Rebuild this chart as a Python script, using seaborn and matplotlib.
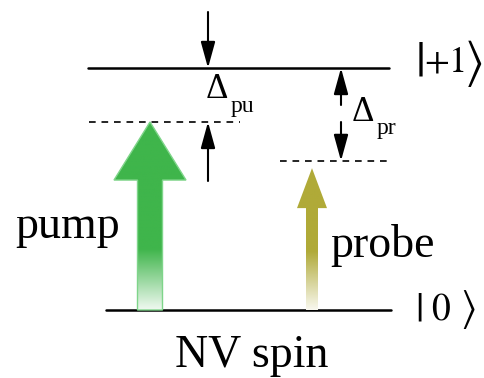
import numpy as np
import pandas as pd
import matplotlib
matplotlib.use("Agg")
import matplotlib.pyplot as plt
from matplotlib.patches import Polygon
import seaborn as sns

# energies in units of the |0> -> |+1> splitting
level_kets = ["0", "+1"]
level_E = [0.0, 1.0]
laser_names = ["pump", "probe"]
laser_E = [0.777, 0.616]          # virtual levels reached by the lasers
laser_colors = ["#3fb54b", "#b0aa38"]
delta_labels = ["pu", "pr"]

sns.set_theme(style="white")
plt.rcParams["font.family"] = ["Liberation Serif", "DejaVu Serif"]
plt.rcParams["mathtext.fontset"] = "stix"
plt.rcParams["text.color"] = "black"

fig = plt.figure(figsize=(4.85, 3.78), dpi=100)
ax = fig.add_axes([0, 0, 1, 1])
ax.set_xlim(0, 485)
ax.set_ylim(-0.281, 1.281)
ax.axis("off")

def E(py):
    # pixel row of the reference -> energy axis
    return (310 - py) / 242

# levels
level_span = [(106, 391), (88, 389)]
for e, (x0, x1) in zip(level_E, level_span):
    sns.lineplot(x=[x0, x1], y=[e, e], color="black", lw=1.8, ax=ax)

# ket labels: bar, content, angle bracket
ket_y = [E(310), E(63)]
ket_x = [(419, 441, 468), (419, 445, 473)]
ket_fs = [(30, 27, 30), (36, 26, 36)]
for k, y, (xb, xc, xa), (fb, fc, fa) in zip(level_kets, ket_y, ket_x, ket_fs):
    ax.text(xb, y, r"$|$", fontsize=fb, ha="center", va="center")
    ax.text(xc, y, "$" + k + "$", fontsize=fc, ha="center", va="center")
    ax.text(xa, y, r"$\rangle$", fontsize=fa, ha="center", va="center")

# virtual levels (dashed)
dash_span = [(89, 240), (280, 388)]
for e, (x0, x1) in zip(laser_E, dash_span):
    sns.lineplot(x=[x0, x1], y=[e, e], color="black", lw=1.2, ax=ax,
                 dashes=False).lines[-1].set_dashes((4, 3.5))

# laser arrows with a fade to white at the bottom
arrow_x = [150, 312]
shaft_hw = [12.5, 6]
head_hw = [36, 15]
head_len = [0.24, 0.165]
tip_gap = [0.0, 0.03]
fade = [0.35, 0.45]
for i, name in enumerate(laser_names):
    xc, tip = arrow_x[i], laser_E[i] - tip_gap[i]
    hb = tip - head_len[i]
    verts = [(xc - shaft_hw[i], 0), (xc - shaft_hw[i], hb), (xc - head_hw[i], hb),
             (xc, tip), (xc + head_hw[i], hb), (xc + shaft_hw[i], hb),
             (xc + shaft_hw[i], 0)]
    poly = Polygon(verts, closed=True, facecolor="none",
                   edgecolor="#7fd58a" if i == 0 else "none", lw=1.0, zorder=3)
    ax.add_patch(poly)
    t = np.linspace(1, 0, 200)
    a = np.clip(0.08 + t / fade[i], 0, 1)
    rgb = np.array(matplotlib.colors.to_rgb(laser_colors[i]))
    img = (1 - a[:, None]) * 1.0 + a[:, None] * rgb[None, :]
    im = ax.imshow(img[:, None, :], extent=(xc - head_hw[i], xc + head_hw[i], 0, tip),
                   aspect="auto", zorder=2)
    im.set_clip_path(poly)

ax.text(68, E(238), "pump", fontsize=33, ha="center", va="baseline")
ax.text(383, E(257), "probe", fontsize=33, ha="center", va="baseline")
ax.text(252, E(367), "NV spin", fontsize=33, ha="center", va="baseline")

# detuning arrows
arr = dict(arrowstyle="-|>,head_length=0.8,head_width=0.22", color="black",
           lw=1.5, mutation_scale=20, shrinkA=0, shrinkB=0)
ax.annotate("", xy=(208, level_E[1]), xytext=(208, E(12)), arrowprops=arr)
ax.annotate("", xy=(208, laser_E[0]), xytext=(208, E(181)), arrowprops=arr)
ax.annotate("", xy=(341, level_E[1]), xytext=(341, E(105)), arrowprops=arr)
ax.annotate("", xy=(341, laser_E[1]), xytext=(341, E(122)), arrowprops=arr)

ax.text(206, E(98), "\u0394", fontsize=25, ha="left", va="baseline")
ax.text(231, E(112), delta_labels[0], fontsize=17, ha="left", va="baseline")
ax.text(352, E(121), "\u0394", fontsize=25, ha="left", va="baseline")
ax.text(377, E(134), delta_labels[1], fontsize=17, ha="left", va="baseline")

fig.savefig("out.png", dpi=100)
